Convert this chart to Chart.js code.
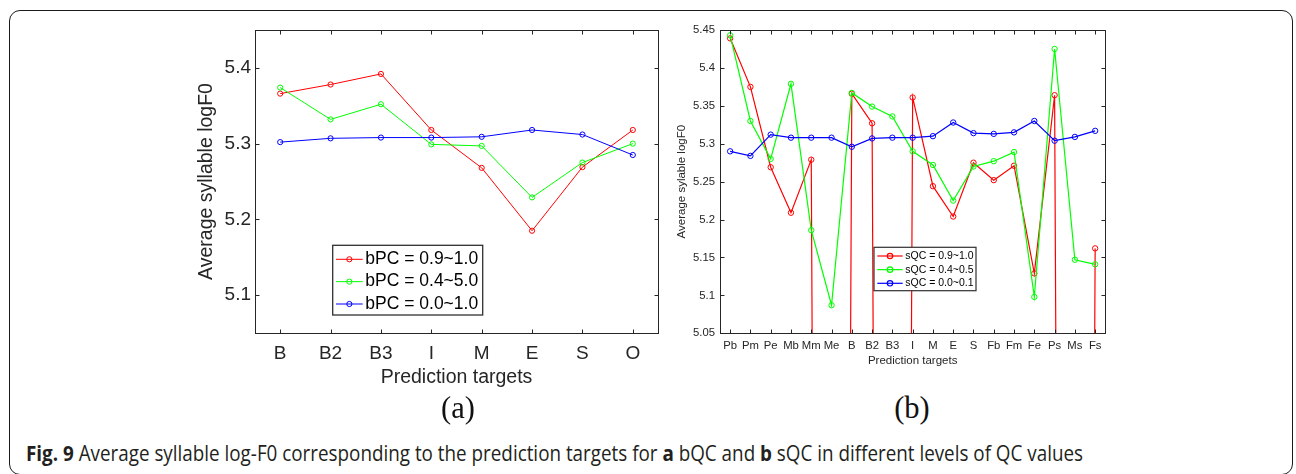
<!DOCTYPE html>
<html>
<head>
<meta charset="utf-8">
<script src="https://cdn.jsdelivr.net/npm/chart.js@4.4.1/dist/chart.umd.min.js"></script>
<style>
  body { margin: 0; background: #fff; width: 1296px; height: 474px; position: relative; overflow: hidden; }
  #frame { position: absolute; left: 9px; top: 10px; width: 1284px; height: 465px; border: 1.5px solid #1a1a1a; border-radius: 11px; box-sizing: border-box; }
  canvas { position: absolute; }
  .sub { position: absolute; width: 80px; margin-left: -40px; text-align: center; font-family: "Liberation Serif", serif; font-size: 30.5px; line-height: 30.5px; color: #111; }
  #cap { position: absolute; left: 26px; top: 443px; font-family: "Open Sans", sans-serif; font-size: 21px; line-height: 21px; white-space: nowrap; transform-origin: 0 0; color: #231f20; }
</style>
</head>
<body>
<div id="frame"></div>
<canvas id="chartA" width="510" height="390" style="left:160px;top:20px"></canvas>
<canvas id="chartB" width="460" height="360" style="left:660px;top:20px"></canvas>
<div class="sub" style="left:458px;top:393px">(a)</div>
<div class="sub" style="left:912px;top:393px">(b)</div>
<div id="cap"><b>Fig. 9</b> Average syllable log-F0 corresponding to the prediction targets for <b>a</b> bQC and <b>b</b> sQC in different levels of QC values</div>
<script>
// panel (a): bPC levels
var catsA = ['B', 'B2', 'B3', 'I', 'M', 'E', 'S', 'O'];
var bpcHigh = [5.366, 5.378, 5.392, 5.318, 5.268, 5.185, 5.269, 5.318];
var bpcMid  = [5.374, 5.332, 5.352, 5.299, 5.297, 5.229, 5.275, 5.300];
var bpcLow  = [5.302, 5.307, 5.308, 5.308, 5.309, 5.318, 5.312, 5.285];
var yTicksA = [5.1, 5.2, 5.3, 5.4];
var namesA  = ['bPC = 0.9~1.0', 'bPC = 0.4~5.0', 'bPC = 0.0~1.0'];

// panel (b): sQC levels (0 = no data, line drops off the axis)
var catsB = ['Pb', 'Pm', 'Pe', 'Mb', 'Mm', 'Me', 'B', 'B2', 'B3', 'I', 'M', 'E', 'S', 'Fb', 'Fm', 'Fe', 'Ps', 'Ms', 'Fs'];
var sqcHigh = [5.439, 5.375, 5.269, 5.209, 5.279, 0, 5.366, 5.327, 0, 5.361, 5.244, 5.204, 5.275, 5.252, 5.271, 5.129, 5.364, 0, 5.162];
var sqcMid  = [5.443, 5.330, 5.280, 5.379, 5.186, 5.087, 5.367, 5.349, 5.336, 5.290, 5.272, 5.225, 5.270, 5.277, 5.289, 5.098, 5.425, 5.147, 5.141];
var sqcLow  = [5.290, 5.284, 5.312, 5.308, 5.308, 5.308, 5.296, 5.307, 5.308, 5.308, 5.310, 5.328, 5.314, 5.313, 5.315, 5.330, 5.304, 5.309, 5.317];
var yTicksB = [5.05, 5.1, 5.15, 5.2, 5.25, 5.3, 5.35, 5.4, 5.45];
var namesB  = ['sQC = 0.9~1.0', 'sQC = 0.4~0.5', 'sQC = 0.0~0.1'];

var colors = ['#ff0000', '#00ff00', '#0000ff'];
var axisColor = '#262626';

// box, inward ticks and legend drawn matlab-style
var matlabBox = {
  id: 'matlabBox',
  afterDatasetsDraw: function (chart, args, opts) {
    var ctx = chart.ctx, a = chart.chartArea;
    var xs = chart.scales.x, ys = chart.scales.y;
    var l = Math.round(a.left) + 0.5, r = Math.round(a.right) + 0.5;
    var t = Math.round(a.top) + 0.5, b = Math.round(a.bottom) + 0.5;
    ctx.save();
    ctx.strokeStyle = axisColor;
    ctx.lineWidth = 1;
    ctx.strokeRect(l, t, r - l, b - t);
    ctx.beginPath();
    xs.ticks.forEach(function (tk, i) {
      var px = Math.round(xs.getPixelForTick(i)) + 0.5;
      ctx.moveTo(px, b); ctx.lineTo(px, b - opts.tickLen);
      ctx.moveTo(px, t); ctx.lineTo(px, t + opts.tickLen);
    });
    ys.ticks.forEach(function (tk, i) {
      var py = Math.round(ys.getPixelForTick(i)) + 0.5;
      ctx.moveTo(l, py); ctx.lineTo(l + opts.tickLen, py);
      ctx.moveTo(r, py); ctx.lineTo(r - opts.tickLen, py);
    });
    ctx.stroke();

    var lg = opts.legend;
    ctx.fillStyle = '#fff';
    ctx.fillRect(lg.x, lg.y, lg.w, lg.h);
    ctx.lineWidth = lg.border;
    ctx.strokeStyle = '#303030';
    ctx.strokeRect(lg.x, lg.y, lg.w, lg.h);
    ctx.font = lg.font + 'px "Liberation Sans", Arial, sans-serif';
    ctx.textBaseline = 'middle';
    chart.data.datasets.forEach(function (ds, i) {
      var cy = lg.y + lg.row0 + i * lg.rowH;
      var x0 = lg.x + lg.line0, x1 = lg.x + lg.line1;
      ctx.strokeStyle = ds.borderColor;
      ctx.lineWidth = ds.borderWidth;
      ctx.beginPath();
      ctx.moveTo(x0, cy); ctx.lineTo(x1, cy);
      ctx.stroke();
      ctx.beginPath();
      ctx.arc((x0 + x1) / 2, cy, ds.pointRadius, 0, Math.PI * 2);
      ctx.stroke();
      ctx.fillStyle = '#000';
      ctx.fillText(ds.label, lg.x + lg.text, cy);
    });
    ctx.restore();
  }
};

function makeSets(names, series, width, radius) {
  return series.map(function (vals, i) {
    return {
      label: names[i],
      data: vals,
      borderColor: colors[i],
      pointBorderColor: colors[i],
      pointBackgroundColor: 'rgba(0,0,0,0)',
      borderWidth: width,
      pointBorderWidth: 1,
      pointRadius: radius,
      pointHoverRadius: radius,
      order: 2 - i
    };
  });
}

function fmt(v) { return String(+v.toFixed(2)); }

function makeChart(id, cats, sets, yTicks, cfg) {
  return new Chart(document.getElementById(id), {
    type: 'line',
    data: { labels: cats, datasets: sets },
    options: {
      responsive: false,
      animation: false,
      devicePixelRatio: 1,
      layout: { padding: cfg.padding },
      elements: { line: { tension: 0 } },
      plugins: {
        legend: { display: false },
        tooltip: { enabled: false },
        matlabBox: { tickLen: 4, legend: cfg.legend }
      },
      scales: {
        x: {
          type: 'category',
          offset: true,
          grid: { display: false, offset: false, drawTicks: false },
          border: { display: false },
          ticks: { color: axisColor, padding: cfg.xPad, autoSkip: false, maxRotation: 0,
                   font: { family: 'Liberation Sans', size: cfg.tickFont } },
          title: { display: true, text: 'Prediction targets', color: axisColor,
                   font: { family: 'Liberation Sans', size: cfg.titleFont },
                   padding: { top: 0, bottom: cfg.xTitlePad } },
          afterFit: function (s) { s.height = cfg.xHeight; s.paddingLeft = 0; s.paddingRight = 0; }
        },
        y: {
          min: yTicks[0] - cfg.yExtra, max: yTicks[yTicks.length - 1] + cfg.yExtra,
          grid: { display: false, drawTicks: false },
          border: { display: false },
          afterBuildTicks: function (s) { s.ticks = yTicks.map(function (v) { return { value: v }; }); },
          ticks: { color: axisColor, padding: cfg.yPad, callback: fmt,
                   font: { family: 'Liberation Sans', size: cfg.tickFont } },
          title: { display: true, text: cfg.yTitle, color: axisColor,
                   font: { family: 'Liberation Sans', size: cfg.titleFont },
                   padding: { top: cfg.yTitlePad, bottom: 0 } },
          afterFit: function (s) { s.width = cfg.yWidth; s.paddingTop = 0; s.paddingBottom = 0; }
        }
      }
    },
    plugins: [matlabBox]
  });
}

makeChart('chartA', catsA, makeSets(namesA, [bpcHigh, bpcMid, bpcLow], 1, 2.6), yTicksA, {
  padding: { top: 10, right: 12, bottom: 0, left: 0 },
  yWidth: 95, xHeight: 77, yExtra: 0.05,
  tickFont: 19, titleFont: 19.5, xPad: 9, yPad: 4,
  xTitlePad: 20.6, yTitlePad: 34.6,
  yTitle: 'Average syllable logF0',
  legend: { x: 172.7, y: 225.3, w: 150, h: 69.7, row0: 14, rowH: 22.35, line0: 3.3, line1: 30, text: 32.6, font: 17.5, border: 1.3 }
});

makeChart('chartB', catsB, makeSets(namesB, [sqcHigh, sqcMid, sqcLow], 1.2, 2.7), yTicksB, {
  padding: { top: 10, right: 14.7, bottom: 0, left: 0 },
  yWidth: 60, xHeight: 46.7, yExtra: 0,
  tickFont: 11.3, titleFont: 11.5, xPad: 5.6, yPad: 5,
  xTitlePad: 12.1, yTitlePad: 15.1,
  yTitle: 'Average sylable logF0',
  legend: { x: 214, y: 227.3, w: 102, h: 43.4, row0: 8.7, rowH: 13.65, line0: 3.3, line1: 28.7, text: 31.3, font: 10.5, border: 1.2 }
});

// squeeze caption to the printed width
var cap = document.getElementById('cap');
cap.style.transform = 'scaleX(' + (1057 / cap.getBoundingClientRect().width) + ')';
</script>
</body>
</html>
